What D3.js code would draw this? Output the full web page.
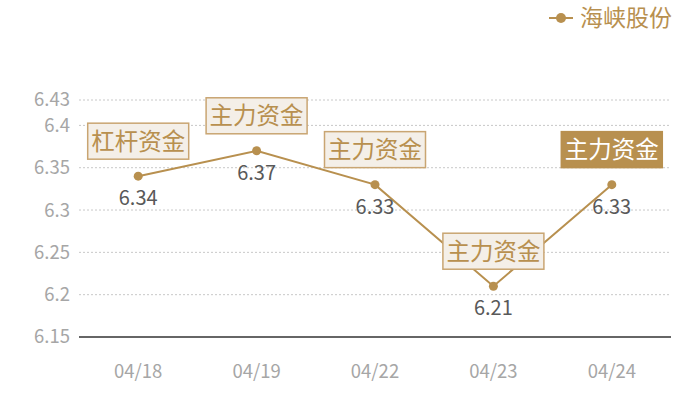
<!DOCTYPE html>
<html>
<head>
<meta charset="utf-8">
<script src="https://cdn.jsdelivr.net/npm/d3@7"></script>
<style>
  body { margin: 0; background: #fff; }
  text { font-family: "Noto Sans CJK SC", "Noto Sans", sans-serif; }
</style>
</head>
<body>
<div id="chart"></div>
<script>
const dates = ['04/18', '04/19', '04/22', '04/23', '04/24']
const prices = [6.34, 6.37, 6.33, 6.21, 6.33]
const tags = ['杠杆资金', '主力资金', '主力资金', '主力资金', '主力资金']
const yTicks = [6.15, 6.2, 6.25, 6.3, 6.35, 6.4, 6.43]
const seriesName = '海峡股份'

const gold = '#b8904f'
const W = 700, H = 400
const plot = { left: 79, right: 671, top: 100, bottom: 337 }

const svg = d3.select('#chart').append('svg')
    .attr('width', W)
    .attr('height', H)

const x = d3.scaleBand()
    .domain(dates)
    .range([plot.left, plot.right])
const y = d3.scaleLinear()
    .domain([6.15, 6.43])
    .range([plot.bottom, plot.top])
const cx = d => x(d) + x.bandwidth() / 2

// grid + y labels
svg.append('g').selectAll('line').data(yTicks.slice(1))
    .enter().append('line')
        .attr('x1', plot.left).attr('x2', plot.right)
        .attr('y1', d => y(d)).attr('y2', d => y(d))
        .attr('stroke', '#c8c8c8')
        .attr('stroke-dasharray', '2,2')

svg.append('g').selectAll('text').data(yTicks)
    .enter().append('text')
        .attr('x', 70)
        .attr('y', d => y(d))
        .attr('dy', '0.35em')
        .attr('text-anchor', 'end')
        .attr('fill', '#a6a6a6')
        .style('font-size', '18.5px')
        .text(d => d)

svg.append('line')
    .attr('x1', plot.left).attr('x2', plot.right)
    .attr('y1', plot.bottom).attr('y2', plot.bottom)
    .attr('stroke', '#333')
    .attr('stroke-width', 1.3)

svg.append('g').selectAll('text').data(dates)
    .enter().append('text')
        .attr('x', d => cx(d))
        .attr('y', 378)
        .attr('text-anchor', 'middle')
        .attr('fill', '#a6a6a6')
        .style('font-size', '18.5px')
        .text(d => d)

// line
const line = d3.line()
    .x((d, i) => cx(dates[i]))
    .y(d => y(d))
svg.append('path')
    .datum(prices)
    .attr('d', line)
    .attr('fill', 'none')
    .attr('stroke', gold)
    .attr('stroke-width', 2)

svg.append('g').selectAll('circle').data(prices)
    .enter().append('circle')
        .attr('cx', (d, i) => cx(dates[i]))
        .attr('cy', d => y(d))
        .attr('r', 4.5)
        .attr('fill', gold)

svg.append('g').selectAll('text').data(prices)
    .enter().append('text')
        .attr('x', (d, i) => cx(dates[i]))
        .attr('y', d => y(d) + 29)
        .attr('text-anchor', 'middle')
        .attr('fill', '#595959')
        .style('font-size', '20px')
        .text(d => d.toFixed(2))

// tag boxes
const last = prices.length - 1
const tagG = svg.append('g').selectAll('g').data(prices)
    .enter().append('g')
        .attr('transform', (d, i) => `translate(${cx(dates[i])},${y(d) - 17})`)

tagG.append('rect')
    .attr('x', -50.5).attr('y', -36)
    .attr('width', 101).attr('height', 36)
    .attr('fill', (d, i) => i === last ? gold : '#f4efe8')
    .attr('stroke', (d, i) => i === last ? gold : '#c9a572')
    .attr('stroke-width', 1.5)

tagG.append('text')
    .attr('y', -18)
    .attr('dy', '0.36em')
    .attr('text-anchor', 'middle')
    .attr('fill', (d, i) => i === last ? '#fff' : gold)
    .style('font-size', '23.5px')
    .text((d, i) => tags[i])

// legend
const lg = svg.append('g').attr('transform', 'translate(549,18)')
lg.append('line').attr('x1', 0).attr('x2', 24)
    .attr('stroke', gold).attr('stroke-width', 2)
lg.append('circle').attr('cx', 12).attr('r', 5).attr('fill', gold)
lg.append('text')
    .attr('x', 31)
    .attr('dy', '0.36em')
    .attr('fill', gold)
    .style('font-size', '23px')
    .text(seriesName)
</script>
</body>
</html>
